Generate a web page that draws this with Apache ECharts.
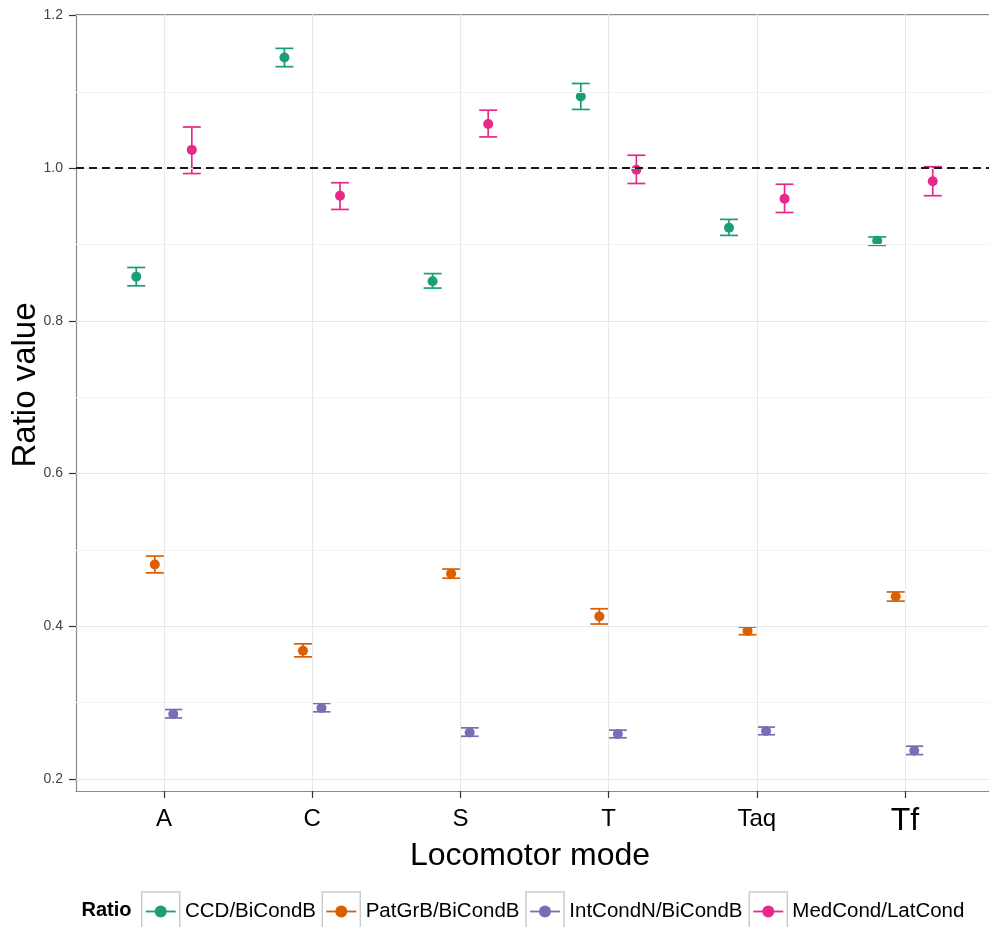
<!DOCTYPE html>
<html>
<head>
<meta charset="utf-8">
<style>
  html, body { margin: 0; padding: 0; background: #fff; }
  #chart { width: 989px; height: 927px; }
</style>
<script src="https://cdn.jsdelivr.net/npm/echarts@6/dist/echarts.min.js"></script>
</head>
<body>
<div id="chart"></div>
<script>
// categories on the x axis (locomotor mode)
const categories = ['A', 'C', 'S', 'T', 'Taq', 'Tf'];
// ratio groups, in legend order
const groups = ['CCD/BiCondB', 'PatGrB/BiCondB', 'IntCondN/BiCondB', 'MedCond/LatCond'];
const colors = ['#1B9E77', '#D95F02', '#7570B3', '#E7298A'];

// mean and error bar bounds per group, one value per category
const ccdMean = [0.858, 1.145, 0.852, 1.094, 0.922, 0.905];
const ccdLow  = [0.846, 1.133, 0.843, 1.077, 0.912, 0.899];
const ccdHigh = [0.870, 1.157, 0.862, 1.111, 0.933, 0.910];

const patMean = [0.481, 0.368, 0.469, 0.413, 0.394, 0.439];
const patLow  = [0.470, 0.360, 0.463, 0.403, 0.389, 0.433];
const patHigh = [0.492, 0.377, 0.475, 0.423, 0.399, 0.445];

const intMean = [0.285, 0.293, 0.261, 0.259, 0.263, 0.237];
const intLow  = [0.280, 0.288, 0.256, 0.254, 0.258, 0.232];
const intHigh = [0.291, 0.299, 0.267, 0.264, 0.268, 0.243];

const medMean = [1.024, 0.964, 1.058, 0.998, 0.960, 0.983];
const medLow  = [0.993, 0.946, 1.041, 0.980, 0.942, 0.964];
const medHigh = [1.054, 0.981, 1.076, 1.017, 0.979, 1.002];

// y axis ticks
const yTicks = [0.2, 0.4, 0.6, 0.8, 1.0, 1.2];
const yMinor = [0.3, 0.5, 0.7, 0.9, 1.1];
const refLine = 1.0;

const means = [ccdMean, patMean, intMean, medMean];
const lows = [ccdLow, patLow, intLow, medLow];
const highs = [ccdHigh, patHigh, intHigh, medHigh];

const FONT = 'Liberation Sans, Arial, sans-serif';
const dodge = 0.5; // total dodge width in category units
const capHalf = 9;
const frame = { color: '#8a8a8a', width: 1.2 };

const chart = echarts.init(document.getElementById('chart'), null, { renderer: 'canvas' });

const xPos = (gi, ci) => ci + 1 + (gi - (groups.length - 1) / 2) * dodge / groups.length;

const series = [];

// background grid via markLine
series.push({
    type: 'line',
    data: [],
    z: 0,
    silent: true,
    markLine: {
        silent: true,
        symbol: 'none',
        animation: false,
        label: { show: false },
        data: [].concat(
            yMinor.map(v => ({ yAxis: v, lineStyle: { color: '#f4f4f4', width: 1, type: 'solid' } })),
            yTicks.map(v => ({ yAxis: v, lineStyle: { color: '#e8e8e8', width: 1, type: 'solid' } })),
            categories.map((c, i) => ({ xAxis: i + 1, lineStyle: { color: '#e8e8e8', width: 1, type: 'solid' } }))
        )
    }
});

groups.forEach((g, gi) => {
    const col = colors[gi];
    series.push({
        name: g,
        type: 'custom',
        z: 2,
        silent: true,
        encode: { x: 0, y: [1, 2] },
        data: categories.map((c, ci) => [xPos(gi, ci), lows[gi][ci], highs[gi][ci]]),
        renderItem: function (params, api) {
            const lo = api.coord([api.value(0), api.value(1)]);
            const hi = api.coord([api.value(0), api.value(2)]);
            const st = { stroke: col, lineWidth: 1.7 };
            return {
                type: 'group',
                children: [
                    { type: 'line', shape: { x1: lo[0], y1: lo[1], x2: hi[0], y2: hi[1] }, style: st },
                    { type: 'line', shape: { x1: lo[0] - capHalf, y1: lo[1], x2: lo[0] + capHalf, y2: lo[1] }, style: st },
                    { type: 'line', shape: { x1: hi[0] - capHalf, y1: hi[1], x2: hi[0] + capHalf, y2: hi[1] }, style: st }
                ]
            };
        }
    });
    series.push({
        name: g,
        type: 'scatter',
        z: 3,
        symbol: 'circle',
        symbolSize: 10,
        itemStyle: { color: col, opacity: 1 },
        data: categories.map((c, ci) => [xPos(gi, ci), means[gi][ci]])
    });
});

// dashed reference line at 1.0, on top
series.push({
    type: 'line',
    data: [],
    z: 5,
    silent: true,
    markLine: {
        silent: true,
        symbol: 'none',
        animation: false,
        label: { show: false },
        lineStyle: { color: '#1a1a1a', width: 2, type: [8, 5] },
        data: [{ yAxis: refLine }]
    }
});

// legend drawn as ggplot-style keys
const legendY = 911.5;
const boxX = [141.7, 322.3, 526, 749.3];
const textX = [185, 365.7, 569.3, 792.3];
const graphics = [
    { type: 'text', left: 81.5, top: legendY - 11, style: { text: 'Ratio', font: 'bold 20px ' + FONT, fill: '#000' } }
];
groups.forEach((g, gi) => {
    graphics.push({ type: 'rect', shape: { x: boxX[gi], y: 892, width: 38, height: 38 }, style: { fill: '#fff', stroke: '#cccccc', lineWidth: 1.5 } });
    graphics.push({ type: 'line', shape: { x1: boxX[gi] + 4, y1: legendY, x2: boxX[gi] + 34, y2: legendY }, style: { stroke: colors[gi], lineWidth: 1.8 } });
    graphics.push({ type: 'circle', shape: { cx: boxX[gi] + 19, cy: legendY, r: 6 }, style: { fill: colors[gi] } });
    graphics.push({ type: 'text', x: textX[gi], y: legendY, style: { text: g, font: '20.5px ' + FONT, fill: '#000', verticalAlign: 'middle' } });
});
// axis titles
graphics.push({ type: 'text', x: 26, y: 385, rotation: Math.PI / 2, style: { text: 'Ratio value', font: '33px ' + FONT, fill: '#000', align: 'center', verticalAlign: 'middle' } });
graphics.push({ type: 'text', x: 530, y: 856, style: { text: 'Locomotor mode', font: '32px ' + FONT, fill: '#000', align: 'center', verticalAlign: 'middle' } });

const option = {
    animation: false,
    backgroundColor: '#fff',
    // the panel runs past the right edge of the picture, so no right border
    grid: { left: 76, top: 14, right: 0, bottom: 136, show: false },
    xAxis: [{
        type: 'value',
        min: 0.406,
        max: 6.567,
        splitLine: { show: false },
        axisLine: { show: true, onZero: false, lineStyle: frame },
        axisTick: { show: true, length: 7, customValues: [1, 2, 3, 4, 5, 6], lineStyle: { color: '#333', width: 1.2 } },
        axisLabel: {
            customValues: [1, 2, 3, 4, 5, 6],
            margin: 16,
            formatter: v => {
                const c = categories[Math.round(v) - 1];
                return c === 'Tf' ? '{big|' + c + '}' : '{n|' + c + '}';
            },
            rich: {
                n: { fontSize: 24, fontFamily: FONT, color: '#000' },
                big: { fontSize: 32, fontFamily: FONT, color: '#000', lineHeight: 28 }
            }
        }
    }, {
        type: 'value',
        position: 'top',
        min: 0.406,
        max: 6.567,
        splitLine: { show: false },
        axisLine: { show: true, onZero: false, lineStyle: frame },
        axisTick: { show: false },
        axisLabel: { show: false }
    }],
    yAxis: {
        type: 'value',
        min: 0.1843,
        max: 1.202,
        splitLine: { show: false },
        axisLine: { show: true, onZero: false, lineStyle: frame },
        axisTick: { show: true, length: 7, customValues: yTicks, lineStyle: { color: '#333', width: 1.2 } },
        axisLabel: {
            customValues: yTicks,
            margin: 13,
            fontSize: 14,
            fontFamily: FONT,
            color: '#444',
            formatter: v => v.toFixed(1)
        }
    },
    graphic: graphics,
    series: series
};

chart.setOption(option);
</script>
</body>
</html>
